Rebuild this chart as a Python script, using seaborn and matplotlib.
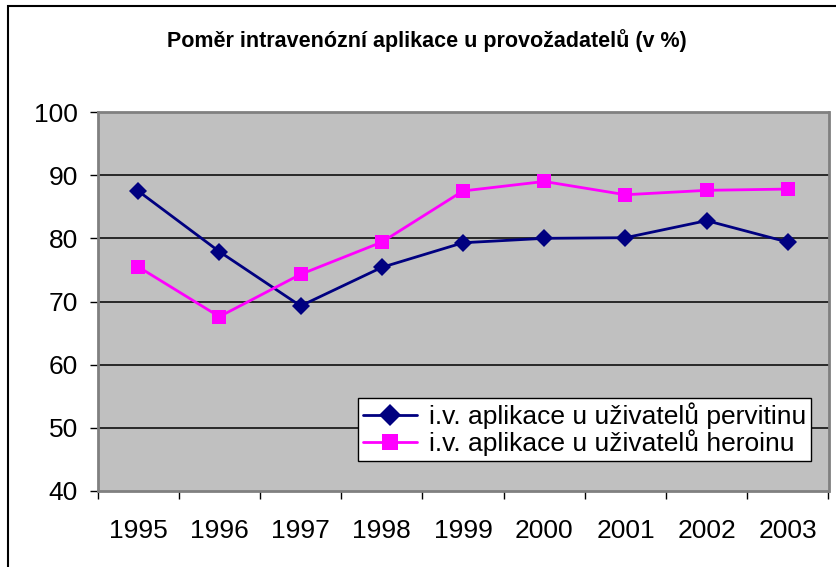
import numpy as np
import pandas as pd
import matplotlib
matplotlib.use("Agg")
import matplotlib.pyplot as plt
import seaborn as sns
from matplotlib.patches import Rectangle

years = ["1995", "1996", "1997", "1998", "1999", "2000", "2001", "2002", "2003"]
pervitin = [87.5, 77.9, 69.3, 75.4, 79.3, 80.0, 80.1, 82.8, 79.4]
heroin = [75.5, 67.6, 74.3, 79.4, 87.5, 89.0, 86.9, 87.6, 87.8]
series_names = ["i.v. aplikace u uživatelů pervitinu", "i.v. aplikace u uživatelů heroinu"]
title = "Poměr intravenózní aplikace u provožadatelů (v %)"
yticks = [40, 50, 60, 70, 80, 90, 100]

df = pd.DataFrame({
    "pos": list(range(len(years))) * 2,
    "value": pervitin + heroin,
    "series": [series_names[0]] * len(years) + [series_names[1]] * len(years),
})

sns.set_theme(style="white")
plt.rcParams["font.family"] = ["Liberation Sans", "DejaVu Sans"]

W, H = 836, 567
fig = plt.figure(figsize=(W / 100, H / 100), dpi=100)
fig.patch.set_facecolor("white")

# outer chart frame
fig.patches.append(Rectangle((8 / W, -0.1), 1.2, 1 - 6 / H + 0.1, transform=fig.transFigure,
                             fill=False, edgecolor="black", linewidth=1.5, zorder=0))

ax = fig.add_axes([97.5 / W, (H - 491) / H, (828.5 - 97.5) / W, (491 - 112) / H])
ax.set_facecolor("#C0C0C0")

palette = {series_names[0]: "#000080", series_names[1]: "#FF00FF"}
markers = {series_names[0]: "D", series_names[1]: "s"}
sns.lineplot(data=df, x="pos", y="value", hue="series", style="series",
             palette=palette, markers=markers, dashes=False, markersize=10,
             linewidth=2.0, markeredgewidth=0, ax=ax, zorder=3)
for line in ax.get_lines():
    if line.get_marker() == "D":
        line.set_markersize(9.5)
    elif line.get_marker() == "s":
        line.set_markersize(10.5)

ax.set_xlim(-0.5, len(years) - 0.5)
ax.set_ylim(40, 100)
ax.set_yticks(yticks)
ax.set_yticklabels([str(v) for v in yticks])
for v in yticks[1:-1]:
    ax.axhline(v, color="black", linewidth=1.1, zorder=1)

ax.set_xticks(np.arange(-0.5, len(years), 1.0))
ax.set_xticklabels([])
ax.set_xticks(np.arange(len(years)), minor=True)
ax.set_xticklabels(years, minor=True)
ax.tick_params(axis="x", which="major", direction="out", length=6, width=1, color="black", bottom=True)
ax.tick_params(axis="x", which="minor", length=0, pad=20, labelsize=19)
ax.tick_params(axis="y", direction="out", length=6, width=1, color="black", pad=8, labelsize=19, left=True)
for lbl in ax.get_xticklabels(minor=True) + ax.get_yticklabels():
    lbl.set_color("black")

ax.set_xlabel("")
ax.set_ylabel("")
for side in ["top", "right", "left", "bottom"]:
    ax.spines[side].set_color("#808080")
    ax.spines[side].set_linewidth(2)

leg = ax.legend(loc="upper left", bbox_to_anchor=((358 - 97.5) / (828.5 - 97.5), (491 - 398) / (491 - 112)),
                frameon=True, fancybox=False, framealpha=1, edgecolor="black", fontsize=19,
                borderpad=0.18, labelspacing=0.0, handlelength=2.05, handletextpad=0.45, borderaxespad=0)
leg.get_frame().set_linewidth(1)
leg.get_frame().set_facecolor("white")
for t in leg.get_texts():
    t.set_color("black")
for h in leg.get_lines():
    h.set_markersize(11)

fig.text((163 + 690) / 2 / W, 1 - 41 / H, title, ha="center", va="center",
         fontsize=15.5, fontweight="bold", color="black")

fig.savefig("out.png", dpi=100)
